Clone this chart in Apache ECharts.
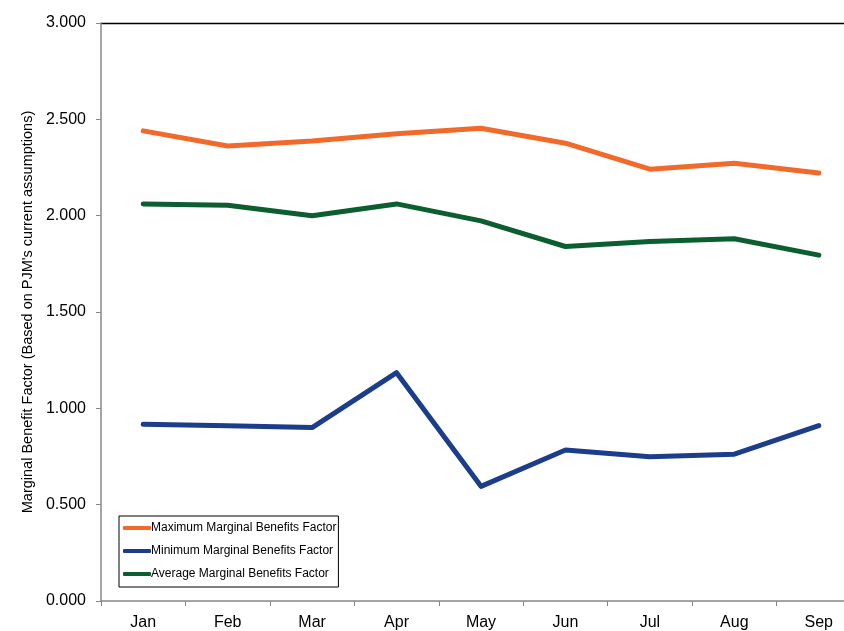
<!DOCTYPE html>
<html>
<head>
<meta charset="utf-8">
<script src="https://cdn.jsdelivr.net/npm/echarts@6/dist/echarts.min.js"></script>
<style>
  html, body { margin: 0; padding: 0; background: #fff; }
  #chart { width: 844px; height: 631px; }
</style>
</head>
<body>
<div id="chart"></div>
<script>
// Monthly marginal benefit factors
var months = ['Jan', 'Feb', 'Mar', 'Apr', 'May', 'Jun', 'Jul', 'Aug', 'Sep'];
var maxFactor = [2.440, 2.362, 2.388, 2.425, 2.454, 2.376, 2.241, 2.272, 2.222];
var minFactor = [0.917, 0.910, 0.900, 1.185, 0.595, 0.784, 0.749, 0.762, 0.910];
var avgFactor = [2.061, 2.054, 2.000, 2.061, 1.973, 1.840, 1.866, 1.880, 1.795];

var font = 'Liberation Sans, Arial, sans-serif';
var chart = echarts.init(document.getElementById('chart'));

function lineSeries(name, data, color) {
  return {
    name: name,
    type: 'line',
    data: data,
    symbol: 'none',
    lineStyle: { width: 5, color: color, cap: 'round', join: 'round' },
    itemStyle: { color: color },
    animation: false
  };
}

chart.setOption({
  animation: false,
  grid: {
    left: 101, top: 23, width: 760, height: 578,
    show: false, containLabel: false, outerBoundsMode: 'none'
  },
  legend: {
    orient: 'vertical',
    left: 119,
    top: 516,
    padding: [6, 2, 7, 4],
    itemGap: 11,
    itemWidth: 28,
    itemHeight: 4,
    borderColor: '#000',
    borderWidth: 1,
    icon: 'roundRect',
    textStyle: { fontFamily: font, fontSize: 12, color: '#000', padding: [0, 0, 0, -5] },
    data: [
      'Maximum Marginal Benefits Factor',
      'Minimum Marginal Benefits Factor',
      'Average Marginal Benefits Factor'
    ]
  },
  xAxis: {
    type: 'category',
    data: months,
    boundaryGap: true,
    axisLine: { lineStyle: { color: '#888', width: 1.5 } },
    axisTick: { show: true, length: 5, lineStyle: { color: '#888' } },
    axisLabel: { fontFamily: font, fontSize: 16, color: '#000', margin: 14 }
  },
  yAxis: {
    type: 'value',
    min: 0,
    max: 3,
    interval: 0.5,
    name: "Marginal Benefit Factor (Based on PJM's current assumptions)",
    nameLocation: 'middle',
    nameGap: 66,
    nameTextStyle: { fontFamily: font, fontSize: 14.5, color: '#000' },
    axisLine: { show: true, lineStyle: { color: '#888', width: 1.5 } },
    axisTick: { show: true, length: 5, lineStyle: { color: '#888' } },
    splitLine: { show: false },
    axisLabel: {
      fontFamily: font, fontSize: 16, color: '#000', margin: 15,
      formatter: function (v) { return v.toFixed(3); }
    }
  },
  graphic: [{
    type: 'line',
    shape: { x1: 101, y1: 23.5, x2: 844, y2: 23.5 },
    style: { stroke: '#000', lineWidth: 1.5 },
    silent: true
  }],
  series: [
    lineSeries('Maximum Marginal Benefits Factor', maxFactor, '#F26A2A'),
    lineSeries('Minimum Marginal Benefits Factor', minFactor, '#1C3D8C'),
    lineSeries('Average Marginal Benefits Factor', avgFactor, '#0A5E30')
  ]
});
</script>
</body>
</html>
